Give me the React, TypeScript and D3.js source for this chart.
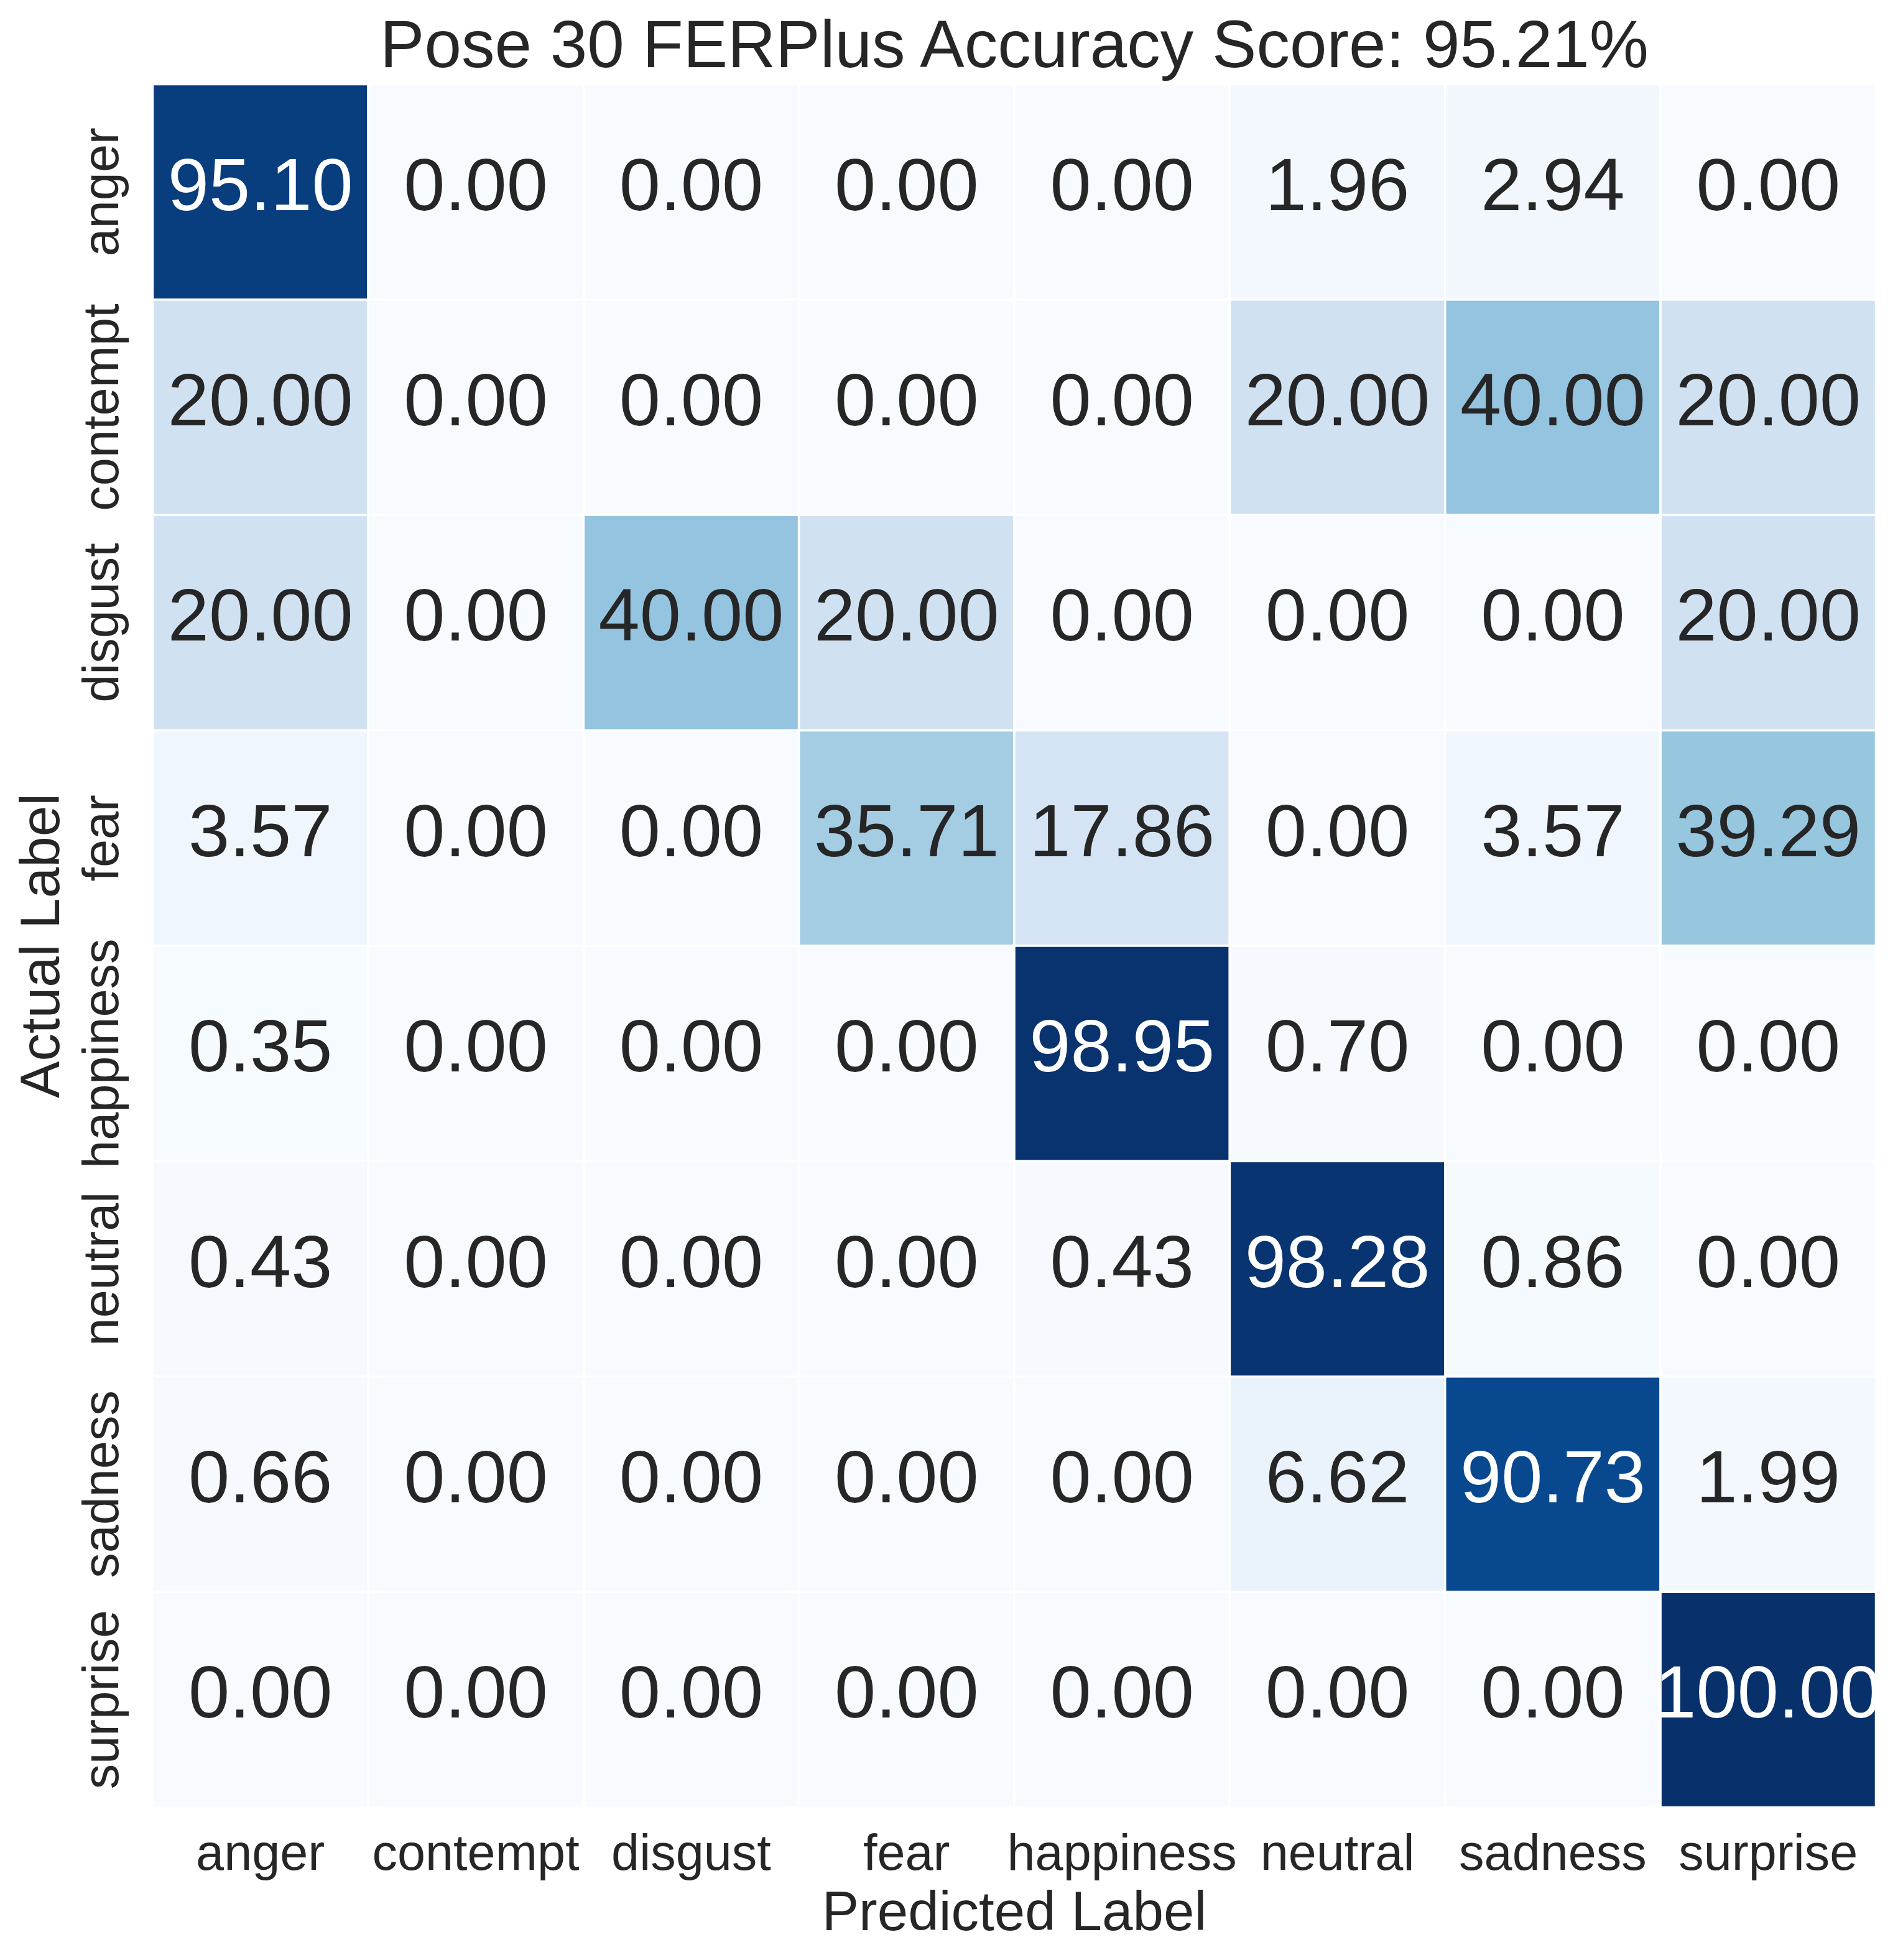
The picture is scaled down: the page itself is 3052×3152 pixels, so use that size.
import React, { useEffect } from "react";
import * as d3 from "d3";

const classes = ["anger", "contempt", "disgust", "fear", "happiness", "neutral", "sadness", "surprise"];
const rowAnger = [95.1, 0, 0, 0, 0, 1.96, 2.94, 0];
const rowContempt = [20, 0, 0, 0, 0, 20, 40, 20];
const rowDisgust = [20, 0, 40, 20, 0, 0, 0, 20];
const rowFear = [3.57, 0, 0, 35.71, 17.86, 0, 3.57, 39.29];
const rowHappiness = [0.35, 0, 0, 0, 98.95, 0.7, 0, 0];
const rowNeutral = [0.43, 0, 0, 0, 0.43, 98.28, 0.86, 0];
const rowSadness = [0.66, 0, 0, 0, 0, 6.62, 90.73, 1.99];
const rowSurprise = [0, 0, 0, 0, 0, 0, 0, 100];
const matrix = [rowAnger, rowContempt, rowDisgust, rowFear, rowHappiness, rowNeutral, rowSadness, rowSurprise];
const titleText = "Pose 30 FERPlus Accuracy Score: 95.21%";
const xLabel = "Predicted Label";
const yLabel = "Actual Label";

const bluesStops = ["#f7fbff", "#deebf7", "#c6dbef", "#9ecae1", "#6baed6", "#4292c6", "#2171b5", "#08519c", "#08306b"];

const W = 3052;
const H = 3152;
const gx0 = 245.5;
const gy0 = 135.5;
const gSize = 2771;
const FONT = "'Liberation Sans', Arial, Helvetica, sans-serif";

function relLum(c: string) {
  const rgb = d3.rgb(c);
  const f = (v: number) => {
    const s = v / 255;
    return s <= 0.03928 ? s / 12.92 : Math.pow((s + 0.055) / 1.055, 2.4);
  };
  return 0.2126 * f(rgb.r) + 0.7152 * f(rgb.g) + 0.0722 * f(rgb.b);
}

export default function App() {
  useEffect(() => {
    document.body.style.margin = "0";
  }, []);
  const x = d3.scaleBand<string>().domain(classes).range([gx0, gx0 + gSize]);
  const y = d3.scaleBand<string>().domain(classes).range([gy0, gy0 + gSize]);
  const vmin = d3.min(matrix.flat()) as number;
  const vmax = d3.max(matrix.flat()) as number;
  const color = d3
    .scaleLinear<string>()
    .domain(bluesStops.map((_, i) => vmin + ((vmax - vmin) * i) / (bluesStops.length - 1)))
    .range(bluesStops)
    .interpolate(d3.interpolateRgb)
    .clamp(true);
  const bw = x.bandwidth();
  const bh = y.bandwidth();
  const annFont = 119;
  return (
    <svg width={W} height={H} style={{ display: "block", background: "#fff" }} fontFamily={FONT}>
      <rect x={0} y={0} width={W} height={H} fill="#ffffff" />
      {matrix.map((row, i) =>
        row.map((v, j) => {
          const c = color(v);
          const tc = relLum(c) > 0.408 ? "#262626" : "#ffffff";
          const cx = (x(classes[j]) as number) + bw / 2;
          const cy = (y(classes[i]) as number) + bh / 2;
          return (
            <g key={`${i}-${j}`}>
              <rect
                x={x(classes[j]) as number}
                y={y(classes[i]) as number}
                width={bw}
                height={bh}
                fill={c}
                stroke="#ffffff"
                strokeWidth={3.5}
              />
              <text x={cx} y={cy + 29} textAnchor="middle" fontSize={annFont} fill={tc}>
                {v.toFixed(2)}
              </text>
            </g>
          );
        })
      )}
      {classes.map((c) => (
        <text
          key={"xt" + c}
          x={(x(c) as number) + bw / 2}
          y={3007}
          textAnchor="middle"
          fontSize={81}
          fill="#262626"
        >
          {c}
        </text>
      ))}
      {classes.map((c) => {
        const cy = (y(c) as number) + bh / 2;
        return (
          <text
            key={"yt" + c}
            transform={`translate(190,${cy}) rotate(-90)`}
            textAnchor="middle"
            fontSize={81}
            fill="#262626"
          >
            {c}
          </text>
        );
      })}
      <text x={gx0 + gSize / 2} y={3104} textAnchor="middle" fontSize={89} fill="#262626">
        {xLabel}
      </text>
      <text
        transform={`translate(95,${gy0 + gSize / 2}) rotate(-90)`}
        textAnchor="middle"
        fontSize={89}
        fill="#262626"
      >
        {yLabel}
      </text>
      <text x={gx0 + gSize / 2} y={108} textAnchor="middle" fontSize={107} fill="#262626">
        {titleText}
      </text>
    </svg>
  );
}
